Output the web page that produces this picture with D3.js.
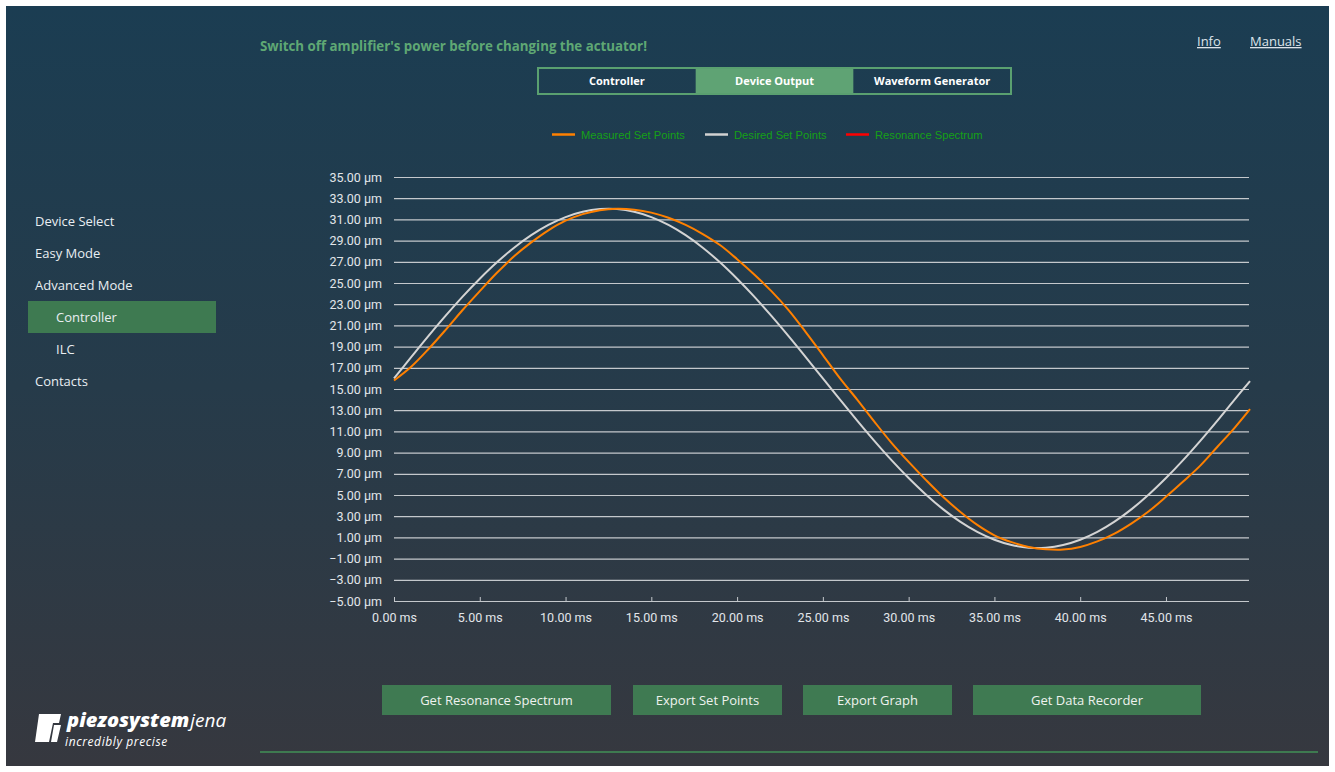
<!DOCTYPE html>
<html>
<head>
<meta charset="utf-8">
<script src="https://cdn.jsdelivr.net/npm/d3@7"></script>
<style>
  html, body { margin: 0; padding: 0; background: #ffffff; }
  svg { display: block; }
</style>
</head>
<body>
<div id="grafico"></div>
<script>
// time axis (ms)
const tiempos = [0, 1, 2, 3, 4, 5, 6, 7, 8, 9, 10, 11, 12, 13, 14, 15, 16, 17, 18, 19, 20,
  21, 22, 23, 24, 25, 26, 27, 28, 29, 30, 31, 32, 33, 34, 35, 36, 37, 38, 39, 40,
  41, 42, 43, 44, 45, 46, 47, 48, 49, 49.9];

// Desired Set Points (µm)
const deseados = [16.00, 18.00, 19.98, 21.89, 23.71, 25.40, 26.95, 28.33, 29.51, 30.48, 31.22,
  31.72, 31.97, 31.97, 31.72, 31.22, 30.48, 29.51, 28.33, 26.95, 25.40,
  23.71, 21.89, 19.98, 18.00, 16.00, 14.00, 12.02, 10.11, 8.29, 6.60,
  5.05, 3.67, 2.49, 1.52, 0.78, 0.28, 0.03, 0.03, 0.28, 0.78,
  1.52, 2.49, 3.67, 5.05, 6.60, 8.29, 10.11, 12.02, 14.00, 15.75];

// Measured Set Points (µm)
const medidos = [15.80, 17.10, 18.75, 20.56, 22.45, 24.23, 25.96, 27.52, 28.83, 29.97, 30.88,
  31.50, 31.87, 32.00, 31.92, 31.64, 31.15, 30.48, 29.62, 28.58, 27.25,
  25.81, 24.23, 22.45, 20.37, 18.20, 16.00, 14.00, 11.92, 9.92, 8.12,
  6.43, 4.83, 3.42, 2.18, 1.20, 0.55, 0.10, -0.12, -0.15, 0.10,
  0.62, 1.36, 2.33, 3.47, 4.83, 6.27, 7.77, 9.55, 11.34, 13.10];

const resonancia = [];

const yTicks = [-5, -3, -1, 1, 3, 5, 7, 9, 11, 13, 15, 17, 19, 21, 23, 25, 27, 29, 31, 33, 35];
const xTicks = [0, 5, 10, 15, 20, 25, 30, 35, 40, 45];

const menu = ["Device Select", "Easy Mode", "Advanced Mode", "Controller", "ILC", "Contacts"];
const pestanas = ["Controller", "Device Output", "Waveform Generator"];
const botones = ["Get Resonance Spectrum", "Export Set Points", "Export Graph", "Get Data Recorder"];
const leyenda = ["Measured Set Points", "Desired Set Points", "Resonance Spectrum"];

var ancho = 1335;
var alto = 772;
var uiFont = "'Open Sans', 'Noto Sans', sans-serif";

var svg = d3.select("#grafico")
    .append("svg")
    .attr("width", ancho)
    .attr("height", alto);

var defs = svg.append("defs");
var grad = defs.append("linearGradient")
    .attr("id", "fondo")
    .attr("x1", 0).attr("y1", 0).attr("x2", 0).attr("y2", 1);
grad.append("stop").attr("offset", "0%").attr("stop-color", "#1b3d52");
grad.append("stop").attr("offset", "50%").attr("stop-color", "#263b4a");
grad.append("stop").attr("offset", "100%").attr("stop-color", "#36383f");

// app window
svg.append("rect")
    .attr("x", 6).attr("y", 6)
    .attr("width", 1323).attr("height", 760)
    .style("fill", "url(#fondo)");

// warning
svg.append("text")
    .attr("x", 260).attr("y", 51)
    .style("font-family", uiFont)
    .style("font-size", "13.3px")
    .style("font-weight", "bold")
    .style("fill", "#5fa874")
    .text("Switch off amplifier's power before changing the actuator!");

// top links
[["Info", 1197], ["Manuals", 1250]].forEach(function (l) {
    svg.append("text")
        .attr("x", l[1]).attr("y", 46)
        .style("font-family", uiFont)
        .style("font-size", "13px")
        .style("fill", "#dde4ea")
        .style("text-decoration", "underline")
        .text(l[0]);
});

// tabs
var tabX = d3.scaleBand().domain(pestanas).range([538, 1011]);
var tabs = svg.append("g");
tabs.selectAll("rect.tab")
    .data(pestanas)
    .enter().append("rect")
    .attr("class", "tab")
    .attr("x", function (d) { return tabX(d); })
    .attr("y", 68)
    .attr("width", tabX.bandwidth())
    .attr("height", 26)
    .style("fill", function (d) { return d === "Device Output" ? "#5fa374" : "none"; });
tabs.append("rect")
    .attr("x", 538).attr("y", 68)
    .attr("width", 473).attr("height", 26)
    .style("fill", "none")
    .style("stroke", "#5aa070")
    .style("stroke-width", 2);
tabs.selectAll("text")
    .data(pestanas)
    .enter().append("text")
    .attr("x", function (d) { return tabX(d) + tabX.bandwidth() / 2; })
    .attr("y", 85)
    .attr("text-anchor", "middle")
    .style("font-family", uiFont)
    .style("font-size", "11px")
    .style("font-weight", "bold")
    .style("fill", "#ffffff")
    .text(function (d) { return d; });

// sidebar
var menuY = [221, 253, 285, 317, 349, 381];
svg.append("rect")
    .attr("x", 28).attr("y", 301)
    .attr("width", 188).attr("height", 32)
    .style("fill", "#3e7a51");
svg.selectAll(".menu")
    .data(menu)
    .enter().append("text")
    .attr("class", "menu")
    .attr("x", function (d) { return (d === "Controller" || d === "ILC") ? 56 : 35; })
    .attr("y", function (d, i) { return menuY[i]; })
    .attr("dy", "0.35em")
    .style("font-family", uiFont)
    .style("font-size", "13px")
    .style("fill", "#e9eef2")
    .text(function (d) { return d; });

// legend
var legX = [552, 705, 846];
var legColor = ["#ff8000", "#d2d2d2", "#ff0000"];
var leg = svg.append("g");
leyenda.forEach(function (d, i) {
    leg.append("line")
        .attr("x1", legX[i]).attr("x2", legX[i] + 23)
        .attr("y1", 134.5).attr("y2", 134.5)
        .style("stroke", legColor[i])
        .style("stroke-width", 2.5);
    leg.append("text")
        .attr("x", legX[i] + 29).attr("y", 135)
        .attr("dy", "0.35em")
        .style("font-family", "'Liberation Sans', Arial, sans-serif")
        .style("font-size", "11.2px")
        .style("fill", "#16a016")
        .text(d);
});

// chart
var margen = { superior: 177, izquierdo: 394 };
var plotW = 1249 - 394;
var plotH = 601 - 177;

var g = svg.append("g")
    .attr("transform", "translate(" + margen.izquierdo + "," + margen.superior + ")");

var x = d3.scaleLinear()
    .domain([0, 49.84])
    .range([0, plotW]);

var y = d3.scaleLinear()
    .domain([-5, 35])
    .range([plotH, 0]);

g.append("g")
    .attr("class", "grid")
    .call(d3.axisLeft(y)
        .tickValues(yTicks)
        .tickSize(-plotW)
        .tickPadding(12)
        .tickFormat(function (d) { return d3.format(".2f")(d) + " µm"; }))
    .call(function (s) {
        s.select(".domain").remove();
        s.selectAll("line").style("stroke", "#c4c8cc").style("stroke-width", 1.2);
        s.selectAll("text")
            .style("font-family", "Roboto, sans-serif")
            .style("font-size", "12.5px")
            .style("fill", "#e2e6ea");
    });

g.append("g")
    .attr("transform", "translate(0," + plotH + ")")
    .call(d3.axisBottom(x)
        .tickValues(xTicks)
        .tickSize(-4)
        .tickPadding(12)
        .tickFormat(function (d) { return d3.format(".2f")(d) + " ms"; }))
    .call(function (s) {
        s.select(".domain").remove();
        s.selectAll("line").style("stroke", "#c4c8cc");
        s.selectAll("text")
            .style("font-family", "Roboto, sans-serif")
            .style("font-size", "12.5px")
            .style("fill", "#e2e6ea");
    });

var linea = d3.line()
    .x(function (d, i) { return x(tiempos[i]); })
    .y(function (d) { return y(d); })
    .curve(d3.curveCatmullRom);

g.append("path")
    .datum(deseados)
    .attr("d", linea)
    .style("fill", "none")
    .style("stroke", "#d4d4d4")
    .style("stroke-width", 2);

g.append("path")
    .datum(medidos)
    .attr("d", linea)
    .style("fill", "none")
    .style("stroke", "#ff8000")
    .style("stroke-width", 2);

// buttons
var btnX = [382, 633, 803, 973];
var btnW = [229, 149, 149, 228];
botones.forEach(function (d, i) {
    svg.append("rect")
        .attr("x", btnX[i]).attr("y", 685)
        .attr("width", btnW[i]).attr("height", 30)
        .style("fill", "#3f7a52");
    svg.append("text")
        .attr("x", btnX[i] + btnW[i] / 2).attr("y", 700)
        .attr("dy", "0.35em")
        .attr("text-anchor", "middle")
        .style("font-family", uiFont)
        .style("font-size", "13px")
        .style("fill", "#eef2ee")
        .text(d);
});

// bottom rule
svg.append("line")
    .attr("x1", 260).attr("x2", 1318)
    .attr("y1", 752).attr("y2", 752)
    .style("stroke", "#3e7a50")
    .style("stroke-width", 2);

// logo
var logo = svg.append("g").attr("transform", "translate(35,714)");
logo.append("path")
    .attr("d", "M4,0 L26,0 L24,9 L18,9 L14,28 L0,28 Z M19,11 L26,11 L22,28 L16,28 Z")
    .style("fill", "#ffffff");
var marca = logo.append("text")
    .attr("x", 32).attr("y", 13)
    .style("font-family", uiFont)
    .style("font-style", "italic")
    .style("fill", "#ffffff");
marca.append("tspan")
    .style("font-size", "20px")
    .style("font-weight", "800")
    .text("piezosystem");
marca.append("tspan")
    .attr("dx", 1)
    .style("font-size", "19px")
    .style("font-weight", "normal")
    .text("jena");
logo.append("text")
    .attr("x", 30).attr("y", 32)
    .style("font-family", uiFont)
    .style("font-size", "12px")
    .style("font-style", "italic")
    .style("letter-spacing", "0.6px")
    .style("fill", "#ffffff")
    .text("incredibly precise");
</script>
</body>
</html>
